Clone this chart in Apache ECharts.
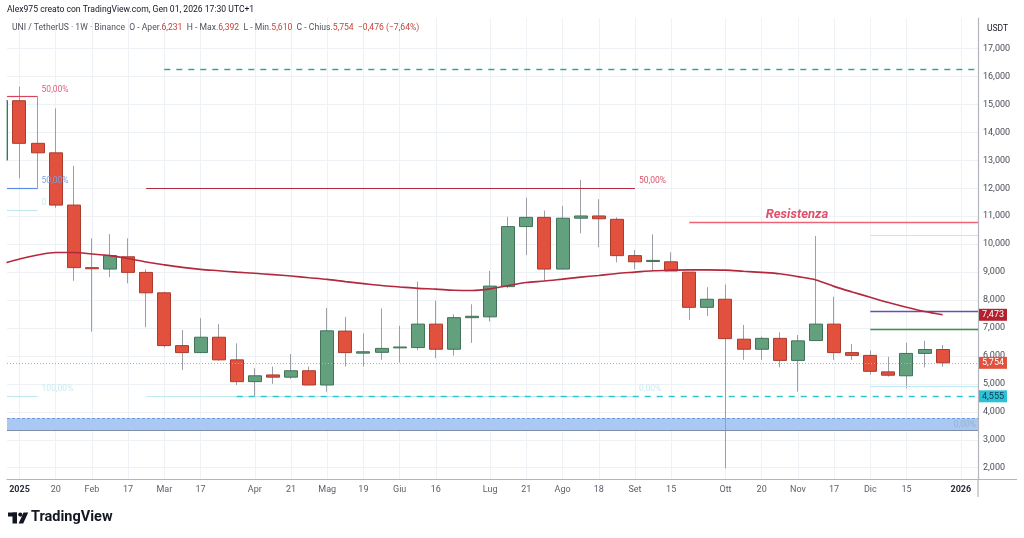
<!DOCTYPE html>
<html><head><meta charset="utf-8">
<script src="https://cdn.jsdelivr.net/npm/echarts@6/dist/echarts.min.js"></script>
<style>html,body{margin:0;padding:0;background:#fff}#c{width:1024px;height:538px}</style>
</head><body><div id="c"></div>
<script>
// Weekly candles, index 0 = week of 30 Dec 2024 ... index 52 = week of 29 Dec 2025
const weekIndex = [0,1,2,3,4,5,6,7,8,9,10,11,12,13,14,15,16,17,18,19,20,21,22,23,24,25,26,27,28,29,30,31,32,33,34,35,36,37,38,39,40,41,42,43,44,45,46,47,48,49,50,51,52];
const opens  = [13.01,15.135,13.61,13.27,11.40,9.16,9.11,9.55,8.99,8.26,6.37,6.12,6.67,5.86,5.08,5.32,5.24,5.47,4.96,6.89,6.10,6.13,6.29,6.30,7.14,6.24,7.37,7.40,8.48,10.63,10.96,9.11,10.93,11.01,10.89,9.59,9.38,9.37,9.00,7.74,8.03,6.60,6.24,6.63,5.84,6.55,7.14,6.12,6.02,5.43,5.29,6.09,6.231];
const closes = [15.14,13.61,13.27,11.40,9.16,9.12,9.59,8.99,8.26,6.37,6.12,6.67,5.86,5.08,5.29,5.24,5.47,4.96,6.90,6.12,6.15,6.27,6.32,7.14,6.24,7.37,7.42,8.50,10.63,10.96,9.11,10.93,11.01,10.91,9.59,9.37,9.42,9.04,7.74,8.03,6.62,6.24,6.63,5.84,6.54,7.14,6.12,6.02,5.45,5.31,6.09,6.23,5.754];
const lows   = [12.70,12.36,12.00,11.30,8.69,6.87,8.82,8.60,7.03,6.31,5.50,6.10,5.83,4.96,4.54,5.00,5.18,4.95,4.72,5.62,5.62,5.86,5.76,6.21,5.92,6.01,6.47,7.23,8.42,9.61,8.68,9.11,10.39,9.89,9.35,9.10,9.05,9.04,7.29,7.43,1.98,5.86,5.86,5.59,4.72,6.55,5.86,5.86,5.33,5.26,4.84,5.59,5.610];
const highs  = [15.40,15.64,15.28,14.86,12.80,10.21,10.36,10.21,9.10,8.30,6.93,7.35,7.14,6.45,5.56,5.62,6.07,5.62,7.72,7.40,6.81,7.70,7.08,8.66,7.98,7.49,7.85,9.04,10.98,11.66,11.20,11.37,12.30,11.61,10.96,9.79,10.35,9.71,9.00,8.46,8.56,7.11,6.69,6.85,6.75,10.29,8.12,6.43,6.19,5.97,6.47,6.55,6.392];
const ma     = [9.29,9.47,9.61,9.70,9.70,9.65,9.59,9.49,9.36,9.26,9.17,9.10,9.05,9.00,8.96,8.91,8.86,8.80,8.74,8.66,8.59,8.52,8.47,8.42,8.39,8.35,8.34,8.40,8.52,8.63,8.68,8.75,8.82,8.88,8.95,9.00,9.05,9.07,9.08,9.08,9.07,9.03,8.99,8.94,8.84,8.72,8.49,8.29,8.10,7.91,7.74,7.59,7.473];
const labelWeeks = [1,3,5,7,9,11,14,16,18,20,22,24,27,29,31,33,35,37,40,42,44,46,48,50,53];
const labelTexts = ['2025','20','Feb','17','Mar','17','Apr','21','Mag','19','Giu','16','Lug','21','Ago','18','Set','15','Ott','20','Nov','17','Dic','15','2026'];
const yTicks = [2,3,4,5,6,7,8,9,10,11,12,13,14,15,16,17];
// drawn levels (USDT)
const dashedTop = 16.27, fibRed = 15.278, fibBlue = 12.0, fibCyan = 11.223, fibLow = 4.555;
const resistenza = 10.769, cyanHi = 10.328, purpleLvl = 7.583, greenLvl = 6.953, cyanLo = 4.899;
const bandLo = 3.349, bandHi = 3.768;
const lastPrice = 5.754, maLast = 7.473;

const X0 = 0.31, X1 = 53.95;
const fmt = v => v.toFixed(3).replace('.', ',');
const FONT = 'Roboto, "Noto Sans", sans-serif';

const bodyData = weekIndex.map(i => [i, opens[i], closes[i], Math.min(opens[i], closes[i]), Math.max(opens[i], closes[i])]);
const wickData = weekIndex.map(i => [i, lows[i], lows[i], lows[i], highs[i]]);
const maData = weekIndex.map(i => [i, ma[i]]);

function seg(x0, x1, y, ls, label) {
  return [{coord: [x0, y], lineStyle: ls, label: label || {show: false}}, {coord: [x1, y], lineStyle: ls}];
}
function tag(text, bg, fg) {
  return {show: true, position: 'end', formatter: text, color: fg, backgroundColor: bg, fontSize: 9, fontFamily: FONT, distance: 1, padding: [2, 3, 1, 3]};
}
function fibText(x, y, text, color) {
  return {coord: [x, y], label: {show: true, position: 'right', distance: 4, offset: [0, -7], formatter: text, color: color, fontSize: 8.5, fontFamily: FONT}};
}

const lines = [
  seg(X0, 2, fibRed, {color: '#d6455e', width: 1.2, type: 'solid'}),
  seg(X0, 2, fibBlue, {color: '#5b8ee6', width: 1.2, type: 'solid'}),
  seg(X0, 2, fibCyan, {color: '#bfe9ef', width: 1.2, type: 'solid'}),
  seg(X0, 2, fibLow, {color: '#bfe9ef', width: 1.2, type: 'solid'}),
  seg(8, 35, fibBlue, {color: '#b3283c', width: 1.2, type: 'solid'}),
  seg(8, 35, fibLow, {color: '#bfe9ef', width: 1.2, type: 'solid'}),
  seg(9, X1, dashedTop, {color: '#22a592', width: 1.4, type: [6, 6]}),
  seg(13, X1, fibLow, {color: '#2cc3cf', width: 1.4, type: [6, 6]}, tag('4,555', '#2cc1d4', '#123a52')),
  seg(38, X1, resistenza, {color: '#ef6473', width: 1.3, type: 'solid'}),
  seg(48, X1, cyanHi, {color: '#bfe9ef', width: 1.2, type: 'solid'}),
  seg(48, X1, purpleLvl, {color: '#6a4db3', width: 1.3, type: 'solid'}),
  seg(48, X1, greenLvl, {color: '#3f8f4a', width: 1.3, type: 'solid'}),
  seg(48, X1, cyanLo, {color: '#bfe9ef', width: 1.2, type: 'solid'}),
  seg(X0, X1, lastPrice, {color: '#e99a92', width: 1, type: [1, 2]}, tag('5,754', '#e0523e', '#ffffff')),
  seg(50, X1, maLast, {color: 'rgba(0,0,0,0)', width: 1, type: 'solid'}, tag('7,473', '#b5202e', '#ffffff')),
  seg(X0, X1, bandHi, {color: '#6f98dc', width: 1, type: [3, 2]}, {show: true, position: 'insideEndBottom', formatter: '0,00%', color: '#9eb0cc', fontSize: 8.5, fontFamily: FONT, distance: 2}),
  seg(X0, X1, bandLo, {color: '#7f8ea8', width: 1.2, type: 'solid'})
];

const option = {
  animation: false,
  backgroundColor: '#ffffff',
  grid: {left: 7, right: 46, top: 18, bottom: 59},
  xAxis: {
    type: 'value', min: X0, max: X1,
    axisLine: {show: true, lineStyle: {color: '#b2b5be', width: 1.2}},
    axisTick: {show: false, customValues: labelWeeks},
    splitLine: {show: true, lineStyle: {color: '#eef1f5', width: 1}},
    axisLabel: {
      customValues: labelWeeks, margin: 6, color: '#5d606b', fontSize: 9, fontFamily: FONT,
      formatter: v => { const k = labelWeeks.indexOf(Math.round(v)); if (k < 0) return ''; const t = labelTexts[k]; return t.length === 4 ? '{y|' + t + '}' : t; },
      rich: {y: {fontWeight: 'bold', color: '#2a2e39', fontSize: 9, fontFamily: FONT}}
    }
  },
  yAxis: {
    type: 'value', position: 'right', min: 1.596, max: 18.095, scale: true,
    axisLine: {show: true, lineStyle: {color: '#b2b5be', width: 1.2}},
    axisTick: {show: false, customValues: yTicks},
    splitLine: {show: true, lineStyle: {color: '#eef1f5', width: 1}},
    axisLabel: {customValues: yTicks, margin: 5, color: '#4a4d57', fontSize: 9, fontFamily: FONT, formatter: v => fmt(v)}
  },
  series: [
    {
      type: 'line', data: [], z: 1, silent: true,
      markArea: {silent: true, data: [[{yAxis: bandLo, itemStyle: {color: '#a9c8f3'}}, {yAxis: bandHi}]]},
      markLine: {silent: true, symbol: ['none', 'none'], data: lines},
      markPoint: {silent: true, symbol: 'circle', symbolSize: 0, itemStyle: {color: 'rgba(0,0,0,0)'},
        data: [
          {coord: [43.95, resistenza], label: {show: true, position: 'top', distance: 1, formatter: 'Resistenza', color: '#e0506a', fontSize: 13, fontStyle: 'italic', fontWeight: 'bold', fontFamily: FONT}},
          fibText(2, fibRed, '50,00%', '#e0607a'),
          fibText(2, fibBlue, '50,00%', '#7ba0e6'),
          fibText(2, fibCyan, '0', '#c6ecf1'),
          fibText(2, fibLow, '100,00%', '#c6ecf1'),
          fibText(35, fibBlue, '50,00%', '#d9556c'),
          fibText(35, fibLow, '0,00%', '#c6ecf1')
        ]}
    },
    {
      type: 'candlestick', data: wickData, z: 3, barWidth: 1, clip: true, silent: true,
      itemStyle: {color: '#9c9fa6', color0: '#9c9fa6', borderColor: '#9c9fa6', borderColor0: '#9c9fa6', borderColorDoji: '#9c9fa6', borderWidth: 1}
    },
    {
      type: 'candlestick', data: bodyData, z: 4, barWidth: 13.5, clip: true, silent: true,
      itemStyle: {color: '#62a07e', color0: '#e1513d', borderColor: '#41725a', borderColor0: '#aa3c2e', borderColorDoji: '#41725a', borderWidth: 1}
    },
    {
      type: 'line', data: maData, z: 5, showSymbol: false, smooth: 0.3, clip: true, silent: true,
      lineStyle: {color: '#b3283c', width: 1.6}
    }
  ],
  graphic: [
    {type: 'rect', z: 100, shape: {x: 0, y: 18, width: 6.5, height: 461}, style: {fill: '#ffffff'}},
    {type: 'text', left: 7, top: 5, style: {text: 'Alex975 creato con TradingView.com, Gen 01, 2026 17:30 UTC+1', fill: '#131722', fontSize: 8.6, fontFamily: FONT}},
    {type: 'text', left: 12, top: 23, z: 100, style: {
      text: '{n|UNI / TetherUS · 1W · Binance}  {l|O - Aper.}{v|6,231}  {l|H - Max.}{v|6,392}  {l|L - Min.}{v|5,610}  {l|C - Chius.}{v|5,754}  {v|−0,476 (−7,64%)}',
      fontSize: 8.6, fontFamily: FONT,
      rich: {n: {fill: '#50535e', fontSize: 8.6, fontFamily: FONT}, l: {fill: '#50535e', fontSize: 8.6, fontFamily: FONT}, v: {fill: '#c2453a', fontSize: 8.6, fontFamily: FONT}}
    }},
    {type: 'text', left: 987, top: 24, style: {text: 'USDT', fill: '#131722', fontSize: 8.5, fontFamily: FONT}},
    {type: 'line', shape: {x1: 978, y1: 479, x2: 978, y2: 497}, style: {stroke: '#b2b5be', lineWidth: 1.2}},
    {type: 'line', shape: {x1: 978, y1: 479.5, x2: 1017, y2: 479.5}, style: {stroke: '#b2b5be', lineWidth: 1.2}},
    {type: 'rect', shape: {x: 8, y: 512.5, width: 9, height: 4}, style: {fill: '#131722'}},
    {type: 'rect', shape: {x: 12.5, y: 512.5, width: 4.5, height: 11}, style: {fill: '#131722'}},
    {type: 'circle', shape: {cx: 20.3, cy: 514.6, r: 2.1}, style: {fill: '#131722'}},
    {type: 'polygon', shape: {points: [[23.5, 512.5], [28.2, 512.5], [23.2, 523.5], [18.6, 523.5]]}, style: {fill: '#131722'}},
    {type: 'text', left: 31, top: 510, style: {text: 'TradingView', fill: '#131722', fontSize: 14.5, fontWeight: 'bold', fontFamily: FONT}}
  ]
};
const chart = echarts.init(document.getElementById('c'), null, {renderer: 'canvas'});
chart.setOption(option);
</script></body></html>
